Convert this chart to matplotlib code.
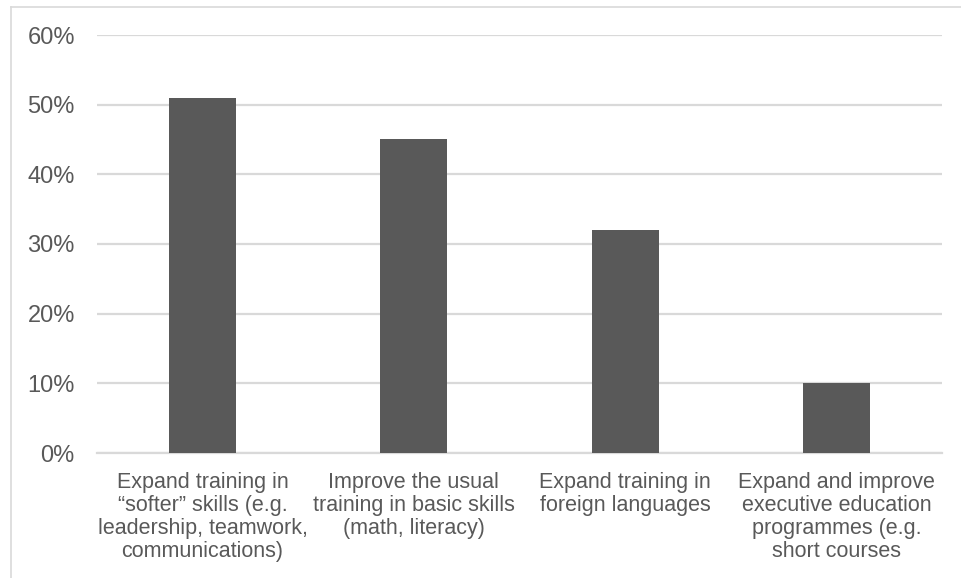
import matplotlib.pyplot as plt
from matplotlib.lines import Line2D
from matplotlib.ticker import PercentFormatter

plt.rcParams['font.family'] = ['Liberation Sans', 'DejaVu Sans']

categories = [
    'Expand training in\n\u201csofter\u201d skills (e.g.\nleadership, teamwork,\ncommunications)',
    'Improve the usual\ntraining in basic skills\n(math, literacy)',
    'Expand training in\nforeign languages',
    'Expand and improve\nexecutive education\nprogrammes (e.g.\nshort courses',
]
values = [0.51, 0.45, 0.32, 0.10]
yticks = [0, 0.1, 0.2, 0.3, 0.4, 0.5, 0.6]

grey_txt = '#595959'
grid_col = '#d9d9d9'

fig = plt.figure(figsize=(9.61, 5.78), dpi=100)
ax = fig.add_axes([97/961, 1 - 453/578, (942-97)/961, (453-35)/578])

x = range(len(values))
ax.bar(x, values, width=0.317, color='#595959', zorder=3)

ax.set_ylim(0, 0.6)
ax.set_xlim(-0.5, len(values) - 0.5)
ax.set_yticks(yticks)
ax.yaxis.set_major_formatter(PercentFormatter(1.0, decimals=0))
ax.grid(axis='y', color=grid_col, linewidth=1.6, zorder=0)
ax.tick_params(axis='y', length=0, pad=16, labelsize=17, labelcolor=grey_txt)
ax.tick_params(axis='x', length=0, pad=14)
ax.set_xticks(list(x))
ax.set_xticklabels(categories, fontsize=15.5, color=grey_txt, linespacing=1.12,
                   va='top')
for s in ['top', 'right', 'left']:
    ax.spines[s].set_visible(False)
ax.spines['bottom'].set_color(grid_col)
ax.spines['bottom'].set_linewidth(1.6)

# outer chart frame
fl, ft = 10.5/961, 1 - 6.5/578
fig.add_artist(Line2D([fl, fl], [0, ft], color=grid_col, lw=1.2, transform=fig.transFigure))
fig.add_artist(Line2D([fl, 1], [ft, ft], color=grid_col, lw=1.2, transform=fig.transFigure))

fig.savefig('out.png', dpi=100)
